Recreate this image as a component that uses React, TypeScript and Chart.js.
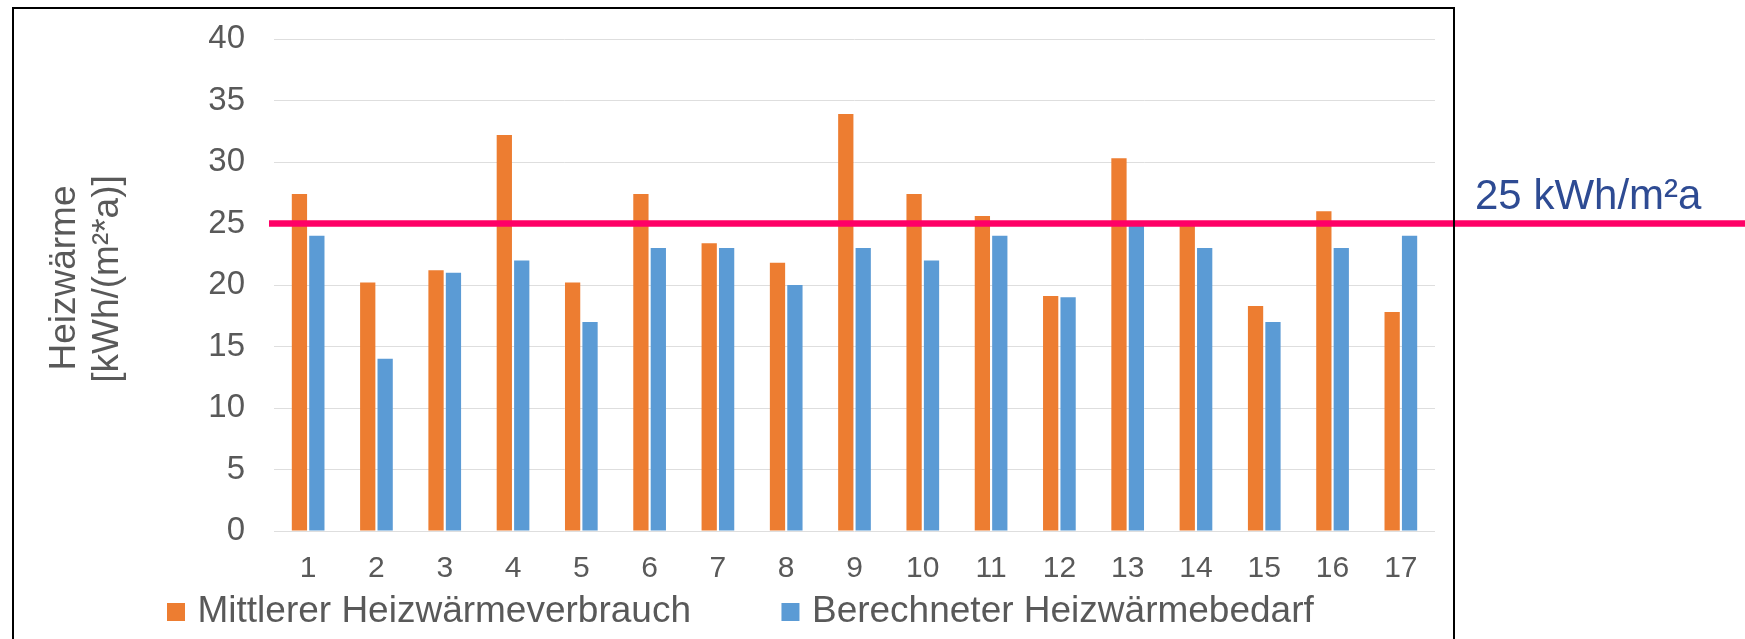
import React, { useEffect, useRef } from "react";
import { Chart, registerables } from "chart.js";

Chart.register(...registerables);

// ---- data ----
const categories = ["1", "2", "3", "4", "5", "6", "7", "8", "9", "10", "11", "12", "13", "14", "15", "16", "17"];
const verbrauch = [27.4, 20.2, 21.2, 32.2, 20.2, 27.4, 23.4, 21.8, 33.9, 27.4, 25.6, 19.1, 30.3, 25.0, 18.3, 26.0, 17.8];
const bedarf = [24, 14, 21, 22, 17, 23, 23, 20, 23, 22, 24, 19, 25, 23, 17, 23, 24];
const seriesLabels = ["Mittlerer Heizwärmeverbrauch", "Berechneter Heizwärmebedarf"];
const yTitle = ["Heizwärme", "[kWh/(m²*a)]"];
const yMin = 0;
const yMax = 40;
const yStep = 5;
const THRESHOLD = 25;
const thresholdLabel = "25 kWh/m²a";

// ---- style / layout constants ----
const W = 1745;
const H = 639;
const FONT = "'Liberation Sans', Arial, Helvetica, sans-serif";
const TEXT = "#595959";
const ORANGE = "#ED7D31";
const BLUE = "#5B9BD5";
const PINK = "#FF0066";
const LABEL_BLUE = "#2E4B93";
const LEG_X = 167; // left edge of first legend square
const LEG_Y = 612; // vertical centre of legend row
const LEG_PAD = 96.5;
const LEG_FONT = 37;
const LEG_BOX = 18;
const LEG_BOXW = 6; // spacing width used by legend layout (square drawn centred on it)
const TITLE_FONT = 37;

const legendPlacePlugin = {
  id: "legendPlace",
  afterLayout(chart: any) {
    const lg = chart.legend;
    if (!lg) return;
    const P = lg.options.labels.padding;
    const itemH = LEG_FONT;
    const firstX = LEG_X + (LEG_BOX - LEG_BOXW) / 2;
    const dx = firstX - (lg.left + P);
    lg.left += dx;
    lg.right += dx;
    lg.top = LEG_Y - itemH / 2 - P;
    lg.bottom = H;
  },
};

const thresholdPlugin = {
  id: "threshold",
  afterDatasetsDraw(chart: any) {
    const { ctx, chartArea, scales } = chart;
    const y = scales.y.getPixelForValue(THRESHOLD);
    ctx.save();
    ctx.strokeStyle = PINK;
    ctx.lineWidth = 6.5;
    ctx.beginPath();
    ctx.moveTo(chartArea.left - 5, y);
    ctx.lineTo(chart.width, y);
    ctx.stroke();
    ctx.fillStyle = LABEL_BLUE;
    ctx.font = `42px ${FONT}`;
    ctx.textAlign = "left";
    ctx.textBaseline = "alphabetic";
    ctx.fillText(thresholdLabel, chartArea.right + 40, y - 15);
    ctx.restore();
  },
};

const yTitlePlugin = {
  id: "yTitle",
  afterDraw(chart: any) {
    const ctx = chart.ctx;
    const mid = (chart.chartArea.top + chart.chartArea.bottom) / 2;
    const drawLine = (text: string, size: number, baselineX: number, centerY: number) => {
      ctx.save();
      ctx.translate(baselineX, centerY);
      ctx.rotate(-Math.PI / 2);
      ctx.font = `${size}px ${FONT}`;
      ctx.fillStyle = TEXT;
      ctx.textAlign = "center";
      ctx.textBaseline = "alphabetic";
      ctx.fillText(text, 0, 0);
      ctx.restore();
    };
    drawLine(yTitle[0], TITLE_FONT, 75, mid - 7);
    drawLine(yTitle[1], TITLE_FONT, 118, mid - 6);
  },
};

export default function App() {
  const ref = useRef<HTMLCanvasElement>(null);

  useEffect(() => {
    if (!ref.current) return;
    Chart.defaults.font.family = FONT;
    const chart = new Chart(ref.current, {
      type: "bar",
      data: {
        labels: categories,
        datasets: [
          {
            label: seriesLabels[0],
            data: verbrauch,
            backgroundColor: ORANGE,
            borderWidth: 0,
            categoryPercentage: 0.51,
            barPercentage: 0.877,
          },
          {
            label: seriesLabels[1],
            data: bedarf,
            backgroundColor: BLUE,
            borderWidth: 0,
            categoryPercentage: 0.51,
            barPercentage: 0.877,
          },
        ],
      },
      options: {
        responsive: false,
        maintainAspectRatio: false,
        animation: false,
        devicePixelRatio: 1,
        layout: { padding: { left: 0, right: 310, top: 39, bottom: 0 } },
        plugins: {
          tooltip: { enabled: false },
          legend: {
            display: true,
            position: "bottom",
            align: "start",
            maxHeight: 60,
            labels: {
              usePointStyle: true,
              pointStyle: "rect",
              boxWidth: LEG_BOXW,
              boxHeight: LEG_BOX,
              padding: LEG_PAD,
              color: TEXT,
              font: { size: LEG_FONT, family: FONT },
            },
          },
        },
        scales: {
          x: {
            grid: { display: false, drawTicks: false },
            border: { display: false },
            ticks: {
              color: TEXT,
              font: { size: 30, family: FONT },
              padding: 20,
              maxRotation: 0,
              autoSkip: false,
            },
            afterFit: (s: any) => {
              s.height = 48;
            },
          },
          y: {
            min: yMin,
            max: yMax,
            grid: {
              color: "#dedede",
              lineWidth: 1,
              drawTicks: true,
              tickLength: 29,
              tickColor: "rgba(0,0,0,0)",
            },
            border: { display: false },
            ticks: {
              stepSize: yStep,
              color: TEXT,
              font: { size: 33, family: FONT },
              padding: 0,
            },
            afterFit: (s: any) => {
              s.width = 274;
            },
          },
        },
      },
      plugins: [legendPlacePlugin, thresholdPlugin, yTitlePlugin],
    } as any);
    return () => chart.destroy();
  }, []);

  return (
    <div
      style={{
        position: "absolute",
        left: 0,
        top: 0,
        width: W,
        height: H,
        background: "#fff",
        overflow: "hidden",
      }}
    >
      <canvas
        ref={ref}
        width={W}
        height={H}
        style={{ position: "absolute", left: 0, top: 0, width: W, height: H }}
      />
      <div
        style={{
          position: "absolute",
          left: 12,
          top: 7,
          width: 1443,
          height: 720,
          border: "2px solid #000",
          boxSizing: "border-box",
          pointerEvents: "none",
        }}
      />
    </div>
  );
}
